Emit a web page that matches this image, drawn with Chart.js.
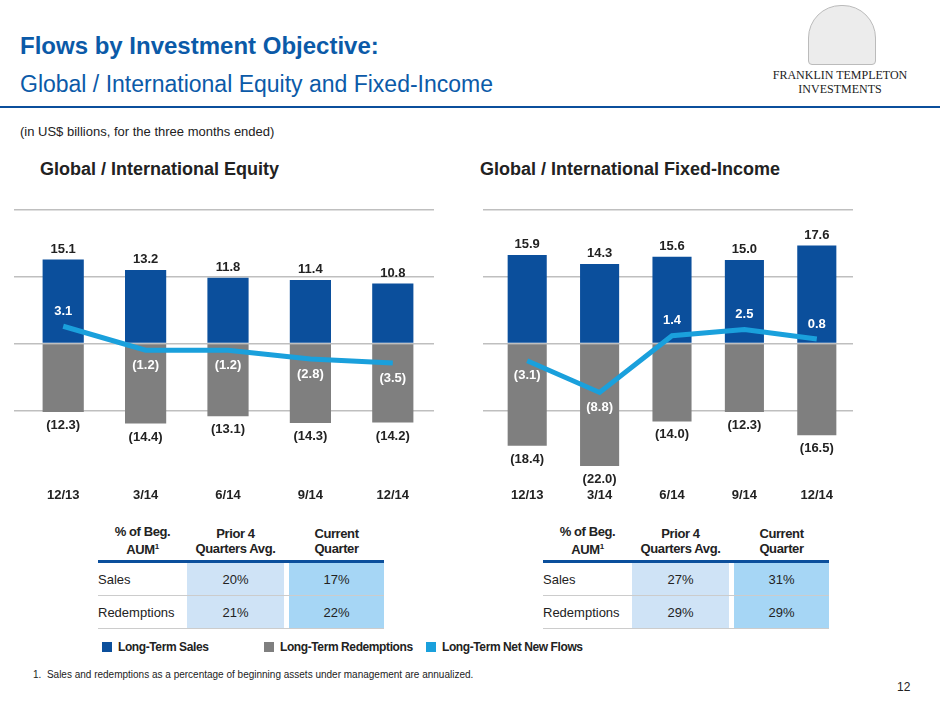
<!DOCTYPE html>
<html><head><meta charset="utf-8">
<script src="https://cdn.jsdelivr.net/npm/chart.js@4"></script>
<style>
body{margin:0;width:940px;height:705px;position:relative;font-family:"Liberation Sans",Arial,sans-serif;background:#fff;overflow:hidden}
.abs{position:absolute;white-space:nowrap}
.narrow{font-weight:bold;letter-spacing:-0.4px}
table{border-collapse:collapse;font-size:13px;color:#222}
td{height:32px;border-bottom:1px solid #ccc;padding:0}
th{font-size:13px;font-weight:bold;color:#222;border-bottom:3px solid #0b4f9c;padding-bottom:3px;line-height:15px;letter-spacing:-0.4px;white-space:nowrap}
</style></head><body>
<div class="abs" style="left:20px;top:32px;font-size:24px;font-weight:bold;color:#0b5aa8">Flows by Investment Objective:</div>
<div class="abs" style="left:20px;top:71px;font-size:23px;color:#0b5aa8">Global / International Equity and Fixed-Income</div>
<div class="abs" style="left:0;top:106px;width:940px;height:2px;background:#0b4f9c"></div>
<div class="abs" style="left:808px;top:5px;width:66px;height:58px;border-radius:33px 33px 4px 4px;background:#ececec;border:1px solid #bbb"></div>
<div class="abs" style="left:770px;top:68px;width:140px;text-align:center;font-family:'Liberation Serif',serif;font-size:12px;color:#222;line-height:14px">FRANKLIN TEMPLETON<br>INVESTMENTS</div>
<div class="abs" style="left:20px;top:124px;font-size:13px;color:#222">(in US$ billions, for the three months ended)</div>
<div class="abs" style="left:40px;top:159px;font-size:18px;font-weight:bold;color:#222">Global / International Equity</div>
<div class="abs" style="left:480px;top:159px;font-size:18px;font-weight:bold;color:#222">Global / International Fixed-Income</div>
<div class="abs" style="left:0;top:200px;width:460px;height:320px"><canvas id="c1"></canvas></div>
<div class="abs" style="left:460px;top:200px;width:460px;height:320px"><canvas id="c2"></canvas></div>
<div id="t1" class="abs" style="left:98px;top:523px"></div>
<div id="t2" class="abs" style="left:543px;top:523px"></div>
<div class="abs narrow" style="left:102px;top:640px;font-size:12px;color:#222;display:flex">
<span style="display:inline-block;width:10px;height:10px;background:#0b4f9c;margin:2px 6px 0 0"></span><span style="width:146px">Long-Term Sales</span>
<span style="display:inline-block;width:10px;height:10px;background:#7f7f7f;margin:2px 6px 0 0"></span><span style="width:146px">Long-Term Redemptions</span>
<span style="display:inline-block;width:10px;height:10px;background:#1aa0dc;margin:2px 6px 0 0"></span><span>Long-Term Net New Flows</span></div>
<div class="abs" style="left:33px;top:669px;font-size:10px;color:#222">1.&nbsp; Sales and redemptions as a percentage of beginning assets under management are annualized.</div>
<div class="abs" style="left:897px;top:680px;font-size:12px;color:#222">12</div>
<script>
const quarters = ["12/13", "3/14", "6/14", "9/14", "12/14"];
const eqSales = [15.1, 13.2, 11.8, 11.4, 10.8];
const eqRedemptions = [-12.3, -14.4, -13.1, -14.3, -14.2];
const eqNet = [3.1, -1.2, -1.2, -2.8, -3.5];
const fiSales = [15.9, 14.3, 15.6, 15.0, 17.6];
const fiRedemptions = [-18.4, -22.0, -14.0, -12.3, -16.5];
const fiNet = [-3.1, -8.8, 1.4, 2.5, 0.8];
const eqTable = [["Sales", "20%", "17%"], ["Redemptions", "21%", "22%"]];
const fiTable = [["Sales", "27%", "31%"], ["Redemptions", "29%", "29%"]];

function fmt(v) { return v < 0 ? "(" + Math.abs(v).toFixed(1) + ")" : v.toFixed(1); }

function buildTable(id, rows) {
  let h = '<table><tr><th style="width:87px">% of Beg.<br>AUM<sup style="font-size:8px">1</sup></th><th style="width:95px">Prior 4<br>Quarters Avg.</th><th style="width:3px"></th><th style="width:93px">Current<br>Quarter</th></tr>';
  rows.forEach(r => {
    h += '<tr><td style="text-align:left">' + r[0] + '</td><td style="text-align:center;background:#cfe3f6">' + r[1] +
      '</td><td style="background:#fff"></td><td style="text-align:center;background:#a6d6f5">' + r[2] + '</td></tr>';
  });
  document.getElementById(id).innerHTML = h + '</table>';
}
buildTable("t1", eqTable);
buildTable("t2", fiTable);

const labelPlugin = {
  id: "labels",
  afterDatasetsDraw(chart) {
    const ctx = chart.ctx;
    ctx.save();
    ctx.font = 'bold 13px "Liberation Sans", Arial';
    ctx.textAlign = "center";
    const s = chart.getDatasetMeta(0).data, r = chart.getDatasetMeta(1).data, n = chart.getDatasetMeta(2).data;
    const d = chart.data.datasets;
    s.forEach((b, i) => {
      ctx.fillStyle = "#222";
      ctx.textBaseline = "bottom";
      ctx.fillText(fmt(d[0].data[i]), b.x, b.y - 4);
      ctx.textBaseline = "top";
      ctx.fillText(fmt(d[1].data[i]), r[i].x, r[i].y + 7);
      ctx.fillStyle = "#fff";
      ctx.textBaseline = "middle";
      const off = d[2].data[i] >= 0 ? -15 : 15;
      ctx.fillText(fmt(d[2].data[i]), n[i].x, n[i].y + off);
      ctx.fillStyle = "#222";
      ctx.textBaseline = "top";
      ctx.fillText(chart.data.labels[i], b.x, chart.chartArea.bottom + 12);
    });
    ctx.restore();
  }
};

function makeChart(id, sales, red, net, pad, pct) {
  new Chart(document.getElementById(id), {
    type: "bar",
    data: {
      labels: quarters,
      datasets: [
        { data: sales, backgroundColor: "#0b4f9c", stack: "s", barPercentage: pct, categoryPercentage: 1, order: 2 },
        { data: red, backgroundColor: "#7f7f7f", stack: "s", barPercentage: pct, categoryPercentage: 1, order: 2 },
        { type: "line", data: net, borderColor: "#1aa0dc", borderWidth: 5, pointRadius: 0, tension: 0, order: 1 }
      ]
    },
    options: {
      responsive: true, maintainAspectRatio: false, animation: false,
      layout: { padding: pad },
      plugins: { legend: { display: false }, tooltip: { enabled: false } },
      scales: {
        x: { display: false, stacked: true },
        y: {
          stacked: false, min: -24, max: 24,
          border: { display: false },
          ticks: { display: false, stepSize: 12 },
          grid: { color: c => c.tick.value === -24 ? "rgba(0,0,0,0)" : "#bfbfbf", lineWidth: 1.5 }
        }
      }
    },
    plugins: [labelPlugin]
  });
}
makeChart("c1", eqSales, eqRedemptions, eqNet, { left: 14, right: 26, top: 10, bottom: 43 }, 0.5);
makeChart("c2", fiSales, fiRedemptions, fiNet, { left: 23, right: 67, top: 10, bottom: 43 }, 0.54);
</script>
</body></html>
